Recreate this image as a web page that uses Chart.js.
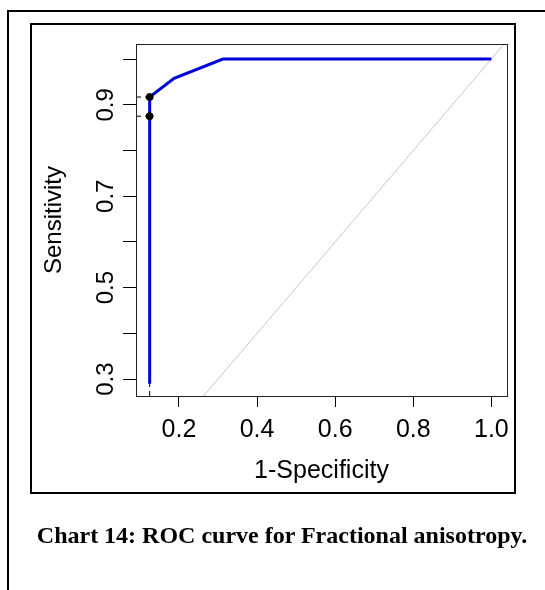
<!DOCTYPE html>
<html>
<head>
<meta charset="utf-8">
<script src="https://cdn.jsdelivr.net/npm/chart.js@4.4.1/dist/chart.umd.min.js"></script>
<style>
  body { margin: 0; background: #fff; width: 545px; height: 590px; overflow: hidden; position: relative; }
  #outer { position: absolute; left: 7px; top: 10px; width: 700px; height: 700px; border: 2px solid #000; }
  #inner { position: absolute; left: 30px; top: 23px; width: 486px; height: 471px; border: 2px solid #000; box-sizing: border-box; }
  #caption { position: absolute; left: 0; width: 564px; top: 522px; text-align: center; white-space: nowrap;
             font-family: "Liberation Serif", "Times New Roman", serif; font-weight: bold; font-size: 24px; color: #000; }
  #roc { position: absolute; left: 0; top: 0; }
</style>
</head>
<body>
<div id="outer"></div>
<div id="inner"></div>
<canvas id="roc" width="545" height="590"></canvas>
<div id="caption">Chart 14: ROC curve for Fractional anisotropy.</div>
<script>
// ROC curve points (1-specificity, sensitivity)
var rocX = [0.125, 0.125, 0.1875, 0.3125, 1.0];
var rocY = [0.29, 0.917, 0.958, 1.0, 1.0];

// marked cut-off points
var cutX = [0.125, 0.125];
var cutY = [0.917, 0.875];

// axis ticks
var xTicks = [0.2, 0.4, 0.6, 0.8, 1.0];
var yTicks = [0.3, 0.4, 0.5, 0.6, 0.7, 0.8, 0.9, 1.0];
var yLabels = ['0.3', '', '0.5', '', '0.7', '', '0.9', ''];

var xMin = 0.09, xMax = 1.04;
var yMin = 0.263, yMax = 1.033;

function pts(xs, ys) {
    return xs.map(function (x, i) { return { x: x, y: ys[i] }; });
}

var guides = [];
cutY.forEach(function (y, i) {
    guides.push({
        data: pts([xMin, cutX[i]], [y, y]),
        borderColor: '#000', borderWidth: 1, borderDash: [5, 4],
        pointRadius: 0, showLine: true
    });
});
guides.push({
    data: pts([cutX[0], cutX[0]], [yMin, cutY[0]]),
    borderColor: '#000', borderWidth: 1, borderDash: [5, 4],
    pointRadius: 0, showLine: true
});

var yFont = { family: '"Liberation Sans", Arial, sans-serif', size: 24 };
var xFont = { family: '"Liberation Sans", Arial, sans-serif', size: 25 };

var boxPlugin = {
    id: 'box',
    afterDraw: function (chart) {
        var a = chart.chartArea, c = chart.ctx;
        c.save();
        c.strokeStyle = '#222';
        c.lineWidth = 1;
        c.strokeRect(Math.round(a.left) + 0.5, Math.round(a.top) + 0.5,
                     Math.round(a.right - a.left), Math.round(a.bottom - a.top));
        c.restore();
    }
};

var ctx = document.getElementById('roc').getContext('2d');
var chart = new Chart(ctx, {
    type: 'scatter',
    data: {
        datasets: [{
            data: pts(cutX, cutY),
            backgroundColor: '#000', borderColor: '#000',
            pointRadius: 3.5, showLine: false
        }, {
            data: pts(rocX, rocY),
            borderColor: '#0000d8', borderWidth: 3,
            pointRadius: 0, showLine: true
        }].concat(guides).concat([{
            data: pts([0, 1.1], [0, 1.1]),
            borderColor: '#c8c8c8', borderWidth: 1,
            pointRadius: 0, showLine: true, clip: 0
        }])
    },
    options: {
        responsive: false,
        animation: false,
        layout: { padding: { left: 40, top: 44, right: 38, bottom: 104 } },
        plugins: { legend: { display: false }, tooltip: { enabled: false } },
        scales: {
            x: {
                type: 'linear', min: xMin, max: xMax,
                afterBuildTicks: function (s) { s.ticks = xTicks.map(function (v) { return { value: v }; }); },
                afterFit: function (s) { s.height = 90; },
                grid: { drawOnChartArea: false, drawTicks: true, tickLength: 11, tickColor: '#000' },
                border: { display: true, color: '#000' },
                ticks: {
                    color: '#000', font: xFont, padding: 8, maxRotation: 0,
                    callback: function (v) { return v.toFixed(1); }
                },
                title: { display: true, text: '1-Specificity', color: '#000', font: xFont, padding: 0 }
            },
            y: {
                type: 'linear', min: yMin, max: yMax,
                afterBuildTicks: function (s) { s.ticks = yTicks.map(function (v) { return { value: v }; }); },
                afterFit: function (s) { s.width = 96; },
                grid: { drawOnChartArea: false, drawTicks: true, tickLength: 13, tickColor: '#000' },
                border: { display: true, color: '#000' },
                ticks: {
                    color: '#000', font: yFont, padding: 0, minRotation: 90, maxRotation: 90,
                    crossAlign: 'center',
                    callback: function (v, i) { return yLabels[i]; }
                },
                title: { display: true, text: 'Sensitivity', color: '#000', font: yFont, padding: 0 }
            }
        }
    },
    plugins: [boxPlugin]
});
</script>
</body>
</html>
